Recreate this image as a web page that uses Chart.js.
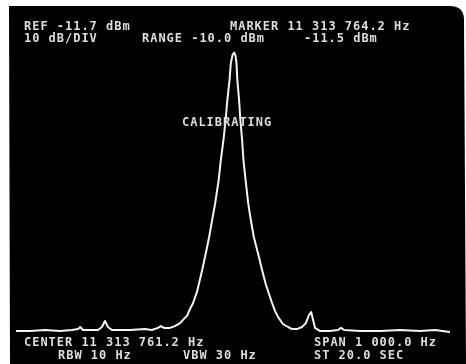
<!DOCTYPE html>
<html>
<head>
<meta charset="utf-8">
<script src="https://cdn.jsdelivr.net/npm/chart.js@4/dist/chart.umd.min.js"></script>
<style>
  html, body { margin: 0; padding: 0; background: #fff; }
  canvas { display: block; }
</style>
</head>
<body>
<canvas id="sa" width="466" height="364"></canvas>
<script>
// Analyzer settings
const centerHz = 11313761.2;
const spanHz = 1000;
const refLevelDbm = -11.7;
const dbPerDiv = 10;
const markerOffsetHz = 3;      // marker at 11 313 764.2 Hz
const markerLevelDbm = -11.5;

// Trace: frequency offset from center (Hz) and level (dBm)
const freqOffsetHz = [
  -500, -468, -433, -399, -371, -357, -352, -346, -311, -302, -295, -288, -279,
  -237, -203, -187, -173, -166, -159, -145, -134, -122, -113, -106, -99, -92,
  -83, -71, -62, -55, -48, -41, -33, -28, -22, -17, -13, -8, -5, -1,
  3,
  6, 8, 10, 14, 17, 21, 24, 29, 35, 41, 48, 58, 67, 76, 90, 97, 104, 115,
  127, 136, 147, 159, 168, 175, 180, 184, 189, 200, 223, 242, 249, 256,
  293, 339, 385, 431, 465, 500
];
const levelDbm = [
  -104.3, -104.3, -104.0, -104.3, -104.0, -103.7, -103.0, -104.0, -104.0, -103.0, -101.0, -103.0, -104.0,
  -104.0, -103.7, -104.0, -103.3, -102.7, -103.3, -103.3, -102.7, -101.7, -100.3, -99.3, -97.0, -95.0,
  -91.3, -84.0, -78.0, -73.0, -67.3, -61.7, -54.0, -47.3, -40.7, -34.0, -27.3, -20.7, -15.0, -12.3,
  -11.5,
  -12.7, -15.0, -20.7, -27.3, -34.0, -40.7, -47.3, -54.0, -61.7, -67.3, -73.0, -78.7, -84.0, -89.0, -95.0, -97.7, -99.7, -102.0,
  -103.0, -103.7, -103.7, -103.0, -101.7, -99.0, -98.0, -100.3, -103.3, -104.3, -104.3, -104.0, -103.3, -104.0,
  -104.3, -104.3, -104.0, -104.3, -104.0, -104.7
];

// Annotation text on the display: [text, left x, baseline y]
const annotations = [
  ['REF -11.7 dBm', 24, 30],
  ['MARKER 11 313 764.2 Hz', 230, 30],
  ['10 dB/DIV', 24, 42],
  ['RANGE -10.0 dBm', 142, 42],
  ['-11.5 dBm', 304, 42],
  ['CALIBRATING', 182, 126],
  ['CENTER 11 313 761.2 Hz', 24, 346],
  ['SPAN 1 000.0 Hz', 314, 346],
  ['RBW 10 Hz', 58, 359],
  ['VBW 30 Hz', 183, 359],
  ['ST 20.0 SEC', 314, 359]
];

const points = freqOffsetHz.map((f, i) => ({ x: f, y: levelDbm[i] }));

// CRT face with a rounded upper-right corner
const crtBackground = {
  id: 'crtBackground',
  beforeDraw(chart) {
    const ctx = chart.ctx;
    ctx.save();
    ctx.fillStyle = '#fff';
    ctx.fillRect(0, 0, chart.width, chart.height);
    ctx.fillStyle = '#000';
    const l = 9, t = 6, r = 464, b = chart.height, rad = 14;
    ctx.beginPath();
    ctx.moveTo(l, t);
    ctx.lineTo(r - rad, t);
    ctx.quadraticCurveTo(r, t, r, t + rad);
    ctx.lineTo(r + 2, b);
    ctx.lineTo(l + 1, b);
    ctx.closePath();
    ctx.fill();
    ctx.restore();
  }
};

// Fixed-pitch character readout
const crtText = {
  id: 'crtText',
  afterDraw(chart) {
    const ctx = chart.ctx;
    const pitch = 8.2;
    ctx.save();
    ctx.font = "bold 12px 'DejaVu Sans Mono'";
    ctx.fillStyle = '#dedede';
    ctx.textBaseline = 'alphabetic';
    ctx.textAlign = 'left';
    annotations.forEach(([txt, x, y]) => {
      for (let i = 0; i < txt.length; i++) {
        ctx.fillText(txt[i], x + i * pitch, y);
      }
    });
    ctx.restore();
  }
};

new Chart(document.getElementById('sa'), {
  type: 'scatter',
  data: {
    datasets: [{
      data: points,
      showLine: true,
      borderColor: '#f4f4f4',
      borderWidth: 2,
      pointRadius: 0,
      tension: 0,
      borderJoinStyle: 'round',
      borderCapStyle: 'round'
    }]
  },
  options: {
    responsive: false,
    animation: false,
    events: [],
    layout: { padding: { left: 16, right: 16, top: 48, bottom: 16 } },
    plugins: { legend: { display: false }, tooltip: { enabled: false } },
    scales: {
      x: { type: 'linear', display: false, min: -spanHz / 2, max: spanHz / 2 },
      y: { type: 'linear', display: false, min: refLevelDbm + 1.7 - 10 * dbPerDiv, max: refLevelDbm + 1.7 }
    }
  },
  plugins: [crtBackground, crtText]
});
</script>
</body>
</html>
